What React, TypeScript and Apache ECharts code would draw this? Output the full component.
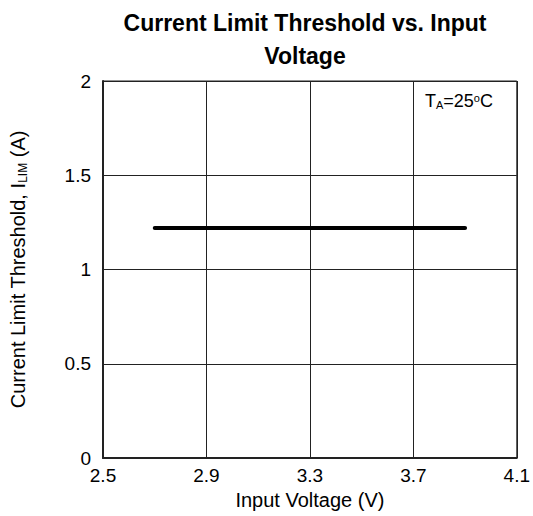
import React, { useEffect, useRef } from "react";
import * as echarts from "echarts";

const titleLines = ["Current Limit Threshold vs. Input", "Voltage"];
const xTicks = [2.5, 2.9, 3.3, 3.7, 4.1];
const yTicks = [0, 0.5, 1, 1.5, 2];
const inputVoltage = [2.7, 3.9];
const currentLimit = [1.22, 1.22];

const FONT = "'Liberation Sans', Arial, Helvetica, sans-serif";

export default function App() {
  const ref = useRef<HTMLDivElement>(null);
  useEffect(() => {
    if (!ref.current) return;
    const chart = echarts.init(ref.current, null, { renderer: "svg" });
    const data = inputVoltage.map((x, i) => [x, currentLimit[i]]);
    chart.setOption({
      animation: false,
      backgroundColor: "#fff",
      title: {
        text: titleLines.join("\n"),
        left: 300,
        top: 1,
        textAlign: "center",
        textStyle: {
          fontFamily: FONT,
          fontSize: 23,
          fontWeight: "bold",
          color: "#000",
          lineHeight: 33,
        },
      },
      grid: {
        left: 101,
        right: 16,
        top: 81,
        bottom: 58,
        show: true,
        borderColor: "#222",
        borderWidth: 1,
        containLabel: false,
      },
      xAxis: {
        type: "value",
        min: xTicks[0],
        max: xTicks[xTicks.length - 1],
        interval: 0.4,
        name: "Input Voltage (V)",
        nameLocation: "middle",
        nameGap: 28,
        nameTextStyle: { fontFamily: FONT, fontSize: 20, color: "#000" },
        axisLine: { show: true, lineStyle: { color: "#222", width: 2 } },
        axisTick: { show: false },
        axisLabel: {
          margin: 8,
          fontFamily: FONT,
          fontSize: 19,
          color: "#000",
          formatter: (v: number) => v.toFixed(1),
        },
        splitLine: { show: true, lineStyle: { color: "#222", width: 1 } },
      },
      yAxis: {
        type: "value",
        min: yTicks[0],
        max: yTicks[yTicks.length - 1],
        interval: 0.5,
        name: "Current Limit Threshold, I{sub|LIM} (A)",
        nameLocation: "middle",
        nameGap: 74,
        nameTextStyle: {
          fontFamily: FONT,
          fontSize: 20,
          color: "#000",
          rich: {
            sub: {
              fontFamily: FONT,
              fontSize: 12,
              color: "#000",
              padding: [10, 0, 0, 0],
            },
          },
        },
        axisLine: { show: true, lineStyle: { color: "#222", width: 2 } },
        axisTick: { show: false },
        axisLabel: {
          margin: 12,
          fontFamily: FONT,
          fontSize: 19,
          color: "#000",
        },
        splitLine: { show: true, lineStyle: { color: "#222", width: 1 } },
      },
      graphic: [
        {
          type: "text",
          left: 425,
          top: 92,
          style: {
            text: "T{sub|A}=25{sup|o}C",
            fontFamily: FONT,
            fontSize: 18,
            fill: "#000",
            rich: {
              sub: { fontFamily: FONT, fontSize: 11, fill: "#000", padding: [8, 0, 0, 0] },
              sup: { fontFamily: FONT, fontSize: 11, fill: "#000", padding: [0, 0, 7, 0] },
            },
          },
        },
      ],
      series: [
        {
          type: "line",
          data,
          showSymbol: false,
          symbol: "none",
          lineStyle: { color: "#000", width: 4, cap: "round" },
        },
      ],
    });
    return () => chart.dispose();
  }, []);
  return (
    <div
      ref={ref}
      style={{ position: "fixed", left: 0, top: 0, width: 533, height: 516 }}
    />
  );
}
